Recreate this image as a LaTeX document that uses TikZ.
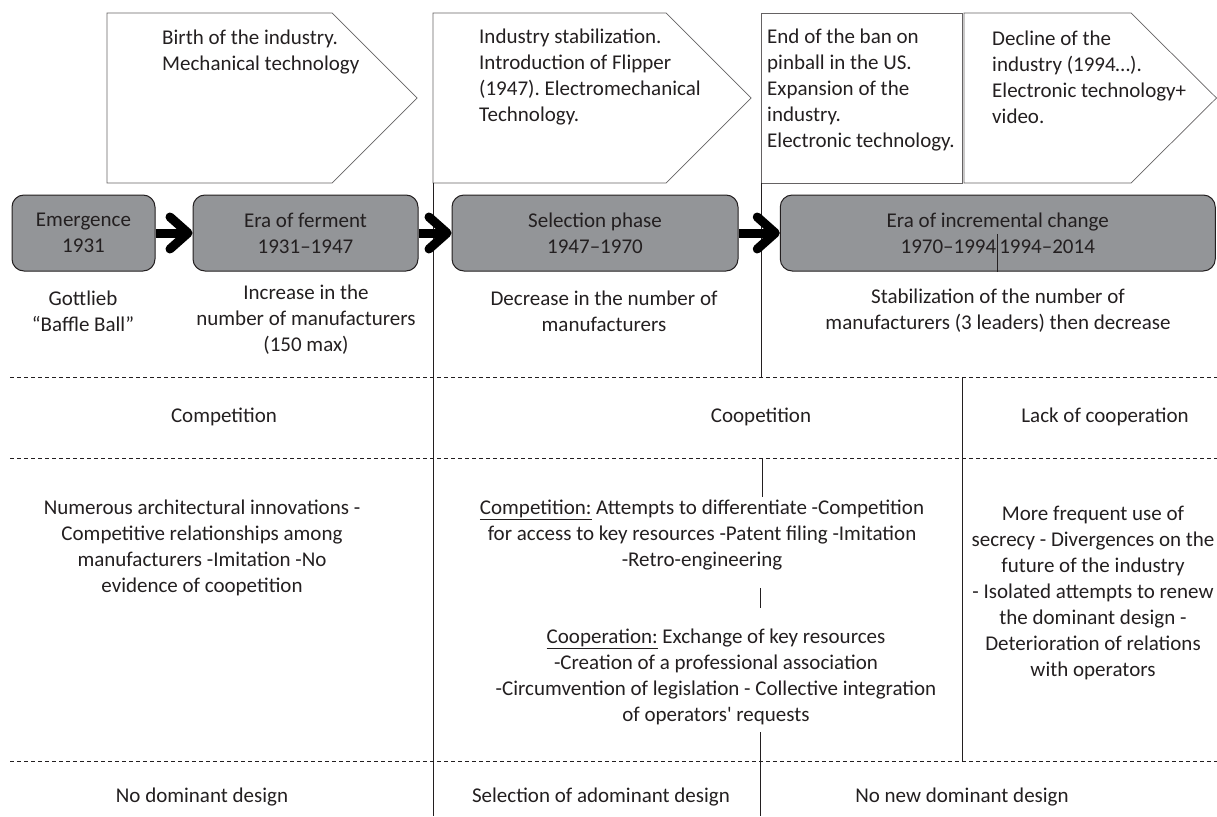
\documentclass[tikz,border=0pt]{standalone}
\usepackage{fontspec}
\setmainfont{Carlito}
\usetikzlibrary{arrows.meta}
\definecolor{ink}{HTML}{231F20}
\definecolor{eragray}{HTML}{939598}
\frenchspacing

\begin{document}
\begin{tikzpicture}[x=1pt, y=-1pt,
    txt/.style={inner sep=0pt, text=ink, font=\fontsize{21}{26}\selectfont},
    era/.style={txt, draw=ink, fill=eragray, rounded corners=12pt, line width=1pt, minimum height=76pt, align=center},
    phase/.style={draw=ink!70, line width=0.7pt},
    rule/.style={draw=ink, line width=0.6pt},
    sep/.style={rule, dash pattern=on 4pt off 3pt},
    jump/.style={line width=9pt, -{Straight Barb[length=18pt, width=32pt, round]}}
  ]
  \useasboundingbox (0,0) rectangle (1217,816);

  % phases on top
  \draw[phase] (107,13) -- (332,13) -- (417,98) -- (332,183) -- (107,183) -- cycle;
  \draw[phase] (433,13) -- (666,13) -- (751,98) -- (666,183) -- (433,183) -- cycle;
  \draw[phase] (761,13) rectangle (962,183);
  \draw[phase] (964,13) -- (1131,13) -- (1216.5,98) -- (1131,183) -- (964,183) -- cycle;
  \node[txt, anchor=west, align=left] (birth) at (162,52) {Birth of the industry.\\Mechanical technology};
  \node[txt, anchor=west, align=left] (stab) at (479,77.5) {Industry stabilization.\\Introduction of Flipper\\(1947). Electromechanical\\Technology.};
  \node[txt, anchor=west, align=left] (ban) at (767,90.5) {End of the ban on\\pinball in the US.\\Expansion of the\\industry.\\Electronic technology.};
  \node[txt, anchor=west, align=left] (decline) at (992,77.5) {Decline of the\\industry (1994\ldots).\\Electronic technology+\\video.};

  % grid lines
  \draw[rule] (433,183) -- (433,816);
  \draw[rule] (761,183) -- (761,377);
  \draw[rule] (762,458) -- (762,497);
  \draw[rule] (760,588) -- (760,608);
  \draw[rule] (760,732) -- (760,816);
  \draw[rule] (962,377) -- (962,761);
  \draw[sep] (10,377) -- (1217,377);
  \draw[sep] (10,458) -- (1217,458);
  \draw[sep] (10,761) -- (1217,761);

  % eras
  \node[era, minimum width=143pt] (emerg) at (83.5,233) {Emergence\\1931};
  \node[era, minimum width=225pt] (ferment) at (305.5,233) {Era of ferment\\1931--1947};
  \node[era, minimum width=286pt] (select) at (595,233) {Selection phase\\1947--1970};
  \node[era, minimum width=435pt] (incr) at (997.75,233) {Era of incremental change\\1970--1994\hspace{3pt}1994--2014};
  \draw[rule] (incr.south) -- ++(0,-38);
  \draw[jump] (emerg) -- (ferment);
  \draw[jump] (ferment) -- (select);
  \draw[jump] (select) -- (incr);

  % manufacturers
  \node[txt, align=center] (gott) at (83,311) {Gottlieb\\``Baffle Ball''};
  \node[txt, align=center] (rise) at (306,319.5) {Increase in the\\number of manufacturers\\(150 max)};
  \node[txt, align=center] (fall) at (604,311) {Decrease in the number of\\manufacturers};
  \node[txt, align=center] (level) at (998,311) {Stabilization of the number of\\manufacturers (3 leaders) then decrease};

  % relations
  \node[txt] (compet) at (224,417) {Competition};
  \node[txt] (coopet) at (761,417) {Coopetition};
  \node[txt] (lack) at (1105,417) {Lack of cooperation};

  % details
  \node[txt, align=center] (numerous) at (202,548) {Numerous architectural innovations -\\Competitive relationships among\\manufacturers -Imitation -No\\evidence of coopetition};
  \node[txt, align=center] (compdet) at (702,535) {\underline{Competition:} Attempts to differentiate -Competition\\for access to key resources -Patent filing -Imitation\\-Retro-engineering};
  \node[txt, align=center] (coopdet) at (716,676.5) {\underline{Cooperation:} Exchange of key resources\\-Creation of a professional association\\-Circumvention of legislation - Collective integration\\of operators\textquotesingle{} requests};
  \node[txt, align=center] (secrecy) at (1093,592.5) {More frequent use of\\secrecy - Divergences on the\\future of the industry\\- Isolated attempts to renew\\the dominant design -\\Deterioration of relations\\with operators};

  % dominant design
  \node[txt] (nodd) at (202,797) {No dominant design};
  \node[txt] (seldd) at (601,797) {Selection of adominant design};
  \node[txt] (newdd) at (962,797) {No new dominant design};
\end{tikzpicture}
\end{document}
